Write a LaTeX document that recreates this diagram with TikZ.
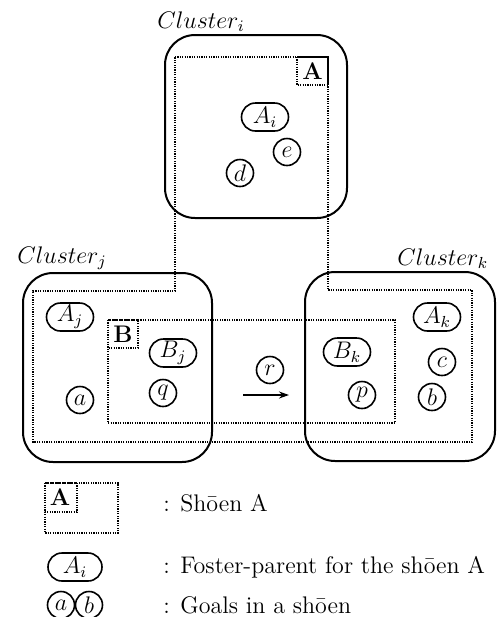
\documentclass[tikz,border=0pt]{standalone}
\usepackage{fontspec}
\usetikzlibrary{arrows.meta}
\begin{document}
\begin{tikzpicture}[x=0.5pt,y=-0.5pt,
  font=\fontsize{12}{14}\selectfont,
  cluster/.style={draw,line width=1pt,rounded corners=15pt},
  shoen/.style={draw,line width=0.8pt,dash pattern=on 0.6pt off 0.6pt},
  goal/.style={draw,circle,line width=0.8pt,minimum size=13.5pt,inner sep=0pt},
  parent/.style={draw,rectangle,line width=0.8pt,rounded corners=7pt,minimum width=23.5pt,minimum height=14pt,inner sep=1pt},
  lab/.style={anchor=base west,inner sep=0pt},
  legtext/.style={anchor=west,inner sep=0pt}]
\useasboundingbox (0,0) rectangle (497,617);
% shoen A
\draw[shoen] (175,57) -- (328,57) -- (328,290) -- (472,290) -- (472,442) -- (33,442) -- (33,291) -- (175,291) -- cycle;
\draw[shoen] (297,57) rectangle (328,85);
\node[inner sep=0pt] (tagA) at (312.5,71.5) {\textbf{A}};
% shoen B
\draw[shoen] (108,320) rectangle (395,423);
\draw[shoen] (108,320) rectangle (138,348);
\node[inner sep=0pt] (tagB) at (123,334) {\textbf{B}};
% clusters
\draw[cluster] (165,35) rectangle (347,218);
\draw[cluster] (23,273) rectangle (212,462);
\draw[cluster] (305,272) rectangle (495,461);
\node[lab] (Ci) at (157,28) {$Cluster_i$};
\node[lab] (Cj) at (17,263) {$Cluster_j$};
\node[lab] (Ck) at (397,265) {$Cluster_k$};
% nodes
\node[parent] (Ai) at (265,117) {$A_i$};
\node[goal] (e) at (287,152) {$e$};
\node[goal] (d) at (240,173) {$d$};
\node[parent] (Aj) at (70,317) {$A_j$};
\node[parent] (Bj) at (173,353) {$B_j$};
\node[goal] (a) at (80,400) {$a$};
\node[goal] (q) at (163,393) {$q$};
\node[goal] (r) at (270,370) {$r$};
\node[parent] (Bk) at (347,352) {$B_k$};
\node[goal] (p) at (362,395) {$p$};
\node[parent] (Ak) at (437,317) {$A_k$};
\node[goal] (c) at (442,362) {$c$};
\node[goal] (b) at (432,397) {$b$};
\coordinate (arS) at (243,395);
\coordinate (arE) at (289,395);
\draw[line width=0.8pt,-{Stealth[length=5pt,width=3.5pt]}] (arS) -- (arE);
% legend
\draw[shoen] (45,483) rectangle (118,533);
\draw[shoen] (45,483) rectangle (77,512);
\node[inner sep=0pt] (legA) at (60,497) {\textbf{A}};
\node[legtext] (t1) at (163,503) {: Shōen A};
\node[parent,minimum width=27pt] (legAi) at (75,567) {$A_i$};
\node[legtext] (t2) at (163,567) {: Foster-parent for the shōen A};
\node[goal] (lega) at (61,605) {$a$};
\node[goal] (legb) at (89,605) {$b$};
\node[legtext] (t3) at (163,605) {: Goals in a shōen};
\end{tikzpicture}
\end{document}
